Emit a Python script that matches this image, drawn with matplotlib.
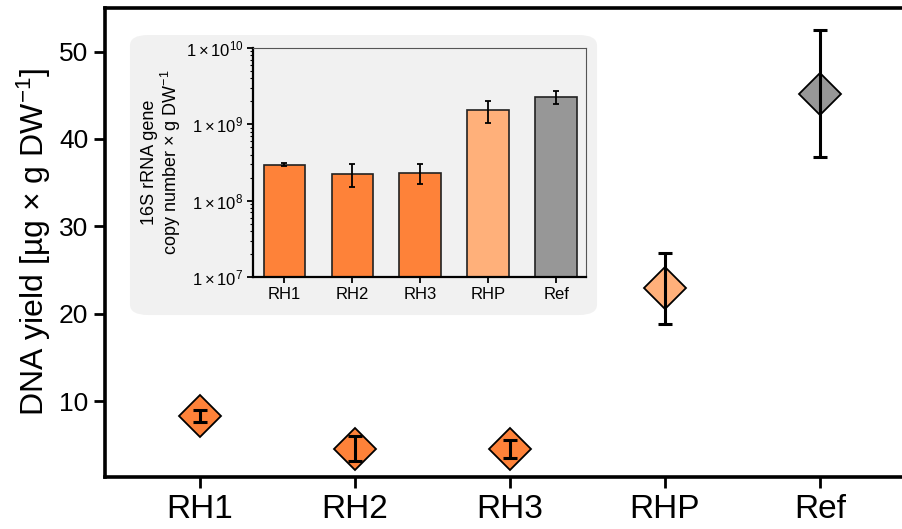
import numpy as np
import matplotlib.pyplot as plt
from matplotlib.patches import FancyBboxPatch
from matplotlib.ticker import LogLocator, FixedLocator

plt.rcParams['font.family'] = ['Liberation Sans', 'DejaVu Sans']
plt.rcParams['mathtext.fontset'] = 'custom'
plt.rcParams['mathtext.rm'] = 'Liberation Sans'
plt.rcParams['mathtext.it'] = 'Liberation Sans:italic'
plt.rcParams['mathtext.bf'] = 'Liberation Sans:bold'

# Podatki - glavni graf (izkoristek DNA)
samples = ['RH1', 'RH2', 'RH3', 'RHP', 'Ref']
dna_yield = [8.25, 4.55, 4.5, 22.9, 45.2]
dna_err = [0.7, 1.45, 1.0, 4.1, 7.3]
colors = ['#FE8239', '#FE8239', '#FE8239', '#FFB07A', '#979797']

# Podatki - vstavljeni graf (16S rRNA kopije)
copies = [2.96e8, 2.26e8, 2.30e8, 1.56e9, 2.28e9]
copies_low = [2.85e8, 1.51e8, 1.67e8, 1.05e9, 1.86e9]
copies_high = [3.07e8, 3.0e8, 3.04e8, 2.05e9, 2.7e9]
log_ticks = [1e7, 1e8, 1e9, 1e10]
log_labels = [r'$\mathregular{1\times10^{7}}$', r'$\mathregular{1\times10^{8}}$',
              r'$\mathregular{1\times10^{9}}$', r'$\mathregular{1\times10^{10}}$']

fig = plt.figure(figsize=(9.02, 5.29), dpi=100)
ax = fig.add_axes([0.1164, 0.0983, 0.8836, 0.8867])

x = np.arange(len(samples))
for i in range(len(samples)):
    ax.plot(x[i], dna_yield[i], marker='D', markersize=21.5, color=colors[i],
            markeredgecolor='black', markeredgewidth=1.3, zorder=2)
ax.errorbar(x, dna_yield, yerr=dna_err, fmt='none', ecolor='black',
            elinewidth=2.2, capsize=5.2, capthick=2.2, zorder=3)

ax.set_xlim(-0.61, 4.53)
ax.set_ylim(1.3, 55)
ax.set_xticks(x)
ax.set_xticklabels(samples, fontsize=24)
ax.set_yticks([10, 20, 30, 40, 50])
ax.tick_params(axis='y', labelsize=19, length=8, width=2, pad=4)
ax.tick_params(axis='x', length=8, width=2, pad=4)
ax.set_ylabel(r'DNA yield [µg $\mathregular{\times}$ g DW$\mathregular{^{-1}}$]', fontsize=23, labelpad=4)
for s in ['left', 'top', 'bottom']:
    ax.spines[s].set_linewidth(2.6)
ax.spines['right'].set_visible(False)

# Siva podlaga za vstavljeni graf
panel = FancyBboxPatch((0.1441, 0.4045), 0.5178, 0.5293,
                       boxstyle='round,pad=0,rounding_size=0.02',
                       transform=fig.transFigure, facecolor='#f1f1f1',
                       edgecolor='none', zorder=5)
fig.patches.append(panel)

ins = fig.add_axes([0.2805, 0.4764, 0.3692, 0.4329], zorder=6)
ins.set_facecolor('#f1f1f1')
yerr = [np.array(copies) - np.array(copies_low), np.array(copies_high) - np.array(copies)]
ins.bar(x, copies, width=0.61, color=colors, edgecolor='#222222', linewidth=1.2,
        yerr=yerr, error_kw=dict(ecolor='black', elinewidth=1.3, capsize=2.5, capthick=1.3))
ins.set_yscale('log')
ins.set_ylim(1e7, 1e10)
ins.set_xlim(-0.46, 4.44)
ins.yaxis.set_major_locator(FixedLocator(log_ticks))
ins.set_yticklabels(log_labels)
ins.yaxis.set_minor_locator(LogLocator(base=10, subs=np.arange(2, 10)))
ins.set_xticks(x)
ins.set_xticklabels(samples)
ins.tick_params(axis='both', which='major', labelsize=12, length=4, width=1.3, pad=3)
ins.tick_params(axis='y', which='minor', length=2.5, width=0.8, labelleft=False)
ins.set_ylabel('16S rRNA gene\ncopy number ' + r'$\mathregular{\times}$' + ' g DW$\\mathregular{^{-1}}$',
               fontsize=13, linespacing=1.05, labelpad=2)
ins.spines['left'].set_linewidth(1.6)
ins.spines['bottom'].set_linewidth(1.6)
ins.spines['top'].set_linewidth(0.8)
ins.spines['right'].set_linewidth(0.8)
ins.spines['top'].set_color('#555555')
ins.spines['right'].set_color('#555555')

fig.savefig('out.png', dpi=100)
